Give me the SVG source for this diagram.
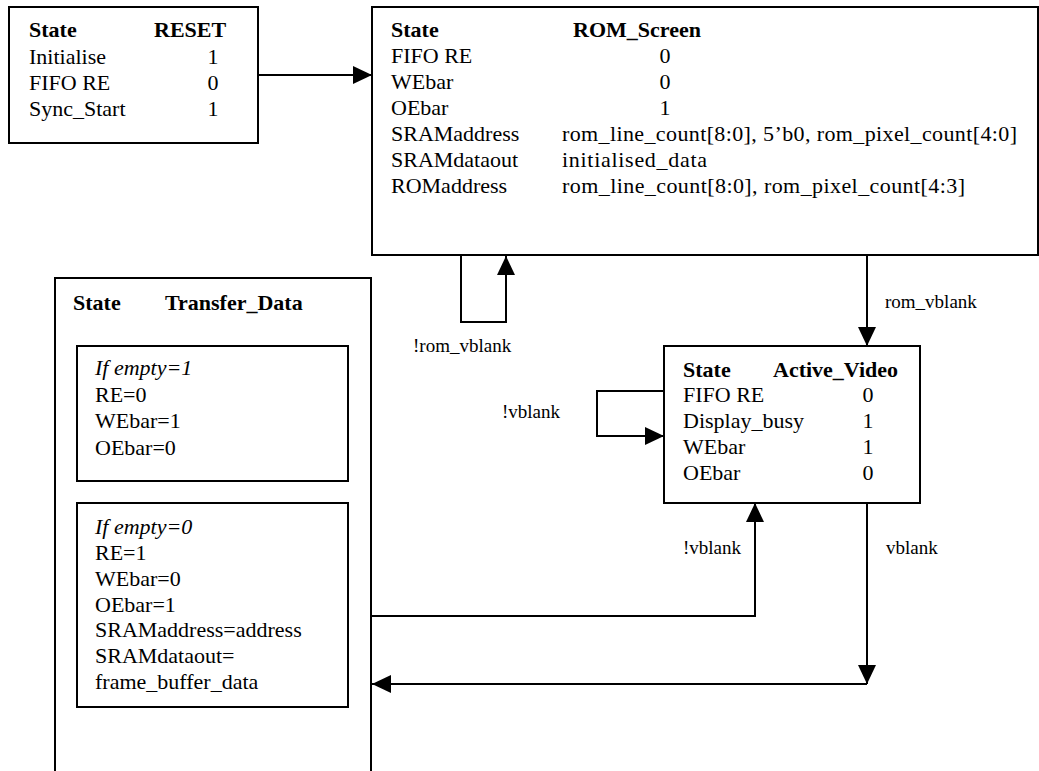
<svg xmlns="http://www.w3.org/2000/svg" width="1039" height="771" viewBox="0 0 1039 771">
<style>
text{font-family:"Liberation Serif","Times New Roman",serif;font-size:22px;fill:#000}
.b{font-weight:bold}
.i{font-style:italic}
.lbl{font-size:19px}
.v{text-anchor:middle}
.box{fill:#fff;stroke:#000;stroke-width:2}
.con{fill:none;stroke:#000;stroke-width:2}
</style>
<defs>
<marker id="arr" viewBox="0 0 19 18" refX="19" refY="9" markerWidth="19" markerHeight="18" orient="auto" markerUnits="userSpaceOnUse"><path d="M0,0 L19,9 L0,18 z" fill="#000"/></marker>
</defs>
<g id="reset">
<rect class="box" x="9" y="7" width="249" height="136"/>
<text class="b" x="29" y="37">State</text>
<text class="b" x="154" y="37">RESET</text>
<text x="29" y="64">Initialise</text><text class="v" x="213" y="64">1</text>
<text x="29" y="90">FIFO RE</text><text class="v" x="213" y="90">0</text>
<text x="29" y="116">Sync_Start</text><text class="v" x="213" y="116">1</text>
</g>
<g id="rom_screen">
<rect class="box" x="372" y="7" width="666" height="248"/>
<text class="b" x="391" y="37">State</text>
<text class="b" x="573" y="37">ROM_Screen</text>
<text x="391" y="63">FIFO RE</text><text class="v" x="665" y="63">0</text>
<text x="391" y="89">WEbar</text><text class="v" x="665" y="89">0</text>
<text x="391" y="115">OEbar</text><text class="v" x="665" y="115">1</text>
<text x="391" y="141">SRAMaddress</text><text x="562" y="141" textLength="455" lengthAdjust="spacing">rom_line_count[8:0], 5’b0, rom_pixel_count[4:0]</text>
<text x="391" y="167">SRAMdataout</text><text x="562" y="167" textLength="145" lengthAdjust="spacing">initialised_data</text>
<text x="391" y="193">ROMaddress</text><text x="562" y="193" textLength="403" lengthAdjust="spacing">rom_line_count[8:0], rom_pixel_count[4:3]</text>
</g>
<g id="transfer_data">
<rect class="box" x="55" y="278" width="316" height="520"/>
<text class="b" x="73" y="310">State</text>
<text class="b" x="165" y="310">Transfer_Data</text>
<rect class="box" x="77" y="346" width="271" height="135"/>
<text class="i" x="95" y="375">If empty=1</text>
<text x="95" y="402">RE=0</text>
<text x="95" y="428">WEbar=1</text>
<text x="95" y="455">OEbar=0</text>
<rect class="box" x="77" y="503" width="271" height="204"/>
<text class="i" x="95" y="534">If empty=0</text>
<text x="95" y="560">RE=1</text>
<text x="95" y="586">WEbar=0</text>
<text x="95" y="612">OEbar=1</text>
<text x="95" y="637">SRAMaddress=address</text>
<text x="95" y="663">SRAMdataout=</text>
<text x="95" y="689">frame_buffer_data</text>
</g>
<g id="active_video">
<rect class="box" x="664" y="346" width="256" height="157"/>
<text class="b" x="683" y="377">State</text>
<text class="b" x="773" y="377">Active_Video</text>
<text x="683" y="402">FIFO RE</text><text class="v" x="868" y="402">0</text>
<text x="683" y="428">Display_busy</text><text class="v" x="868" y="428">1</text>
<text x="683" y="454">WEbar</text><text class="v" x="868" y="454">1</text>
<text x="683" y="480">OEbar</text><text class="v" x="868" y="480">0</text>
</g>
<g id="connectors">
<path class="con" d="M258,75 H372" marker-end="url(#arr)"/>
<path class="con" d="M461,255 V322 H506 V256" marker-end="url(#arr)"/>
<path class="con" d="M867,255 V346" marker-end="url(#arr)"/>
<path class="con" d="M664,391 H597 V436 H664" marker-end="url(#arr)"/>
<path class="con" d="M371,616 H755 V503" marker-end="url(#arr)"/>
<path class="con" d="M867,503 V684" marker-end="url(#arr)"/>
<path class="con" d="M867,684 H372" marker-end="url(#arr)"/>
<text class="lbl" x="413" y="352">!rom_vblank</text>
<text class="lbl" x="885" y="308">rom_vblank</text>
<text class="lbl" x="502" y="418">!vblank</text>
<text class="lbl" x="683" y="554">!vblank</text>
<text class="lbl" x="886" y="554">vblank</text>
</g>
</svg>
